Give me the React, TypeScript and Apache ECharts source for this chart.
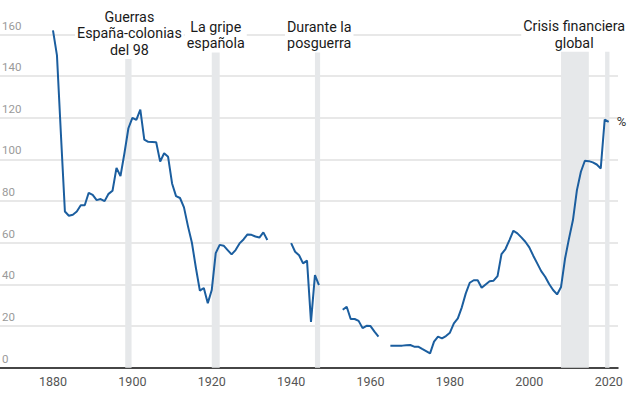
import React, { useEffect, useRef } from "react";
import * as echarts from "echarts";

const years: number[] = [];
for (let y = 1880; y <= 2020; y++) years.push(y);

// Deuda pública sobre PIB (%), lectura del gráfico; null = sin datos
const debt1880s = [162, 150, 112, 75, 73, 73.5, 75, 78, 78, 84];
const debt1890s = [83, 80.5, 81, 80, 83.5, 85, 96, 92, 103, 115];
const debt1900s = [120, 119, 124, 109.6, 108.5, 108.4, 108.3, 99, 103, 101.3];
const debt1910s = [88.5, 82.4, 81.5, 77, 68, 60, 48, 37, 38.3, 31];
const debt1920s = [37.3, 55, 59, 58.6, 56.5, 54.4, 56.5, 59.7, 61.6, 64];
const debt1930s = [63.8, 63, 62.5, 65, 61.3, null, null, null, null, null];
const debt1940s = [59.8, 55.7, 54, 50.1, 51.4, 22, 44.5, 39.7, null, null];
const debt1950s = [null, null, null, 27.8, 29.3, 23.4, 23.4, 22.5, 19, 20.1];
const debt1960s = [20, 17.3, 14.9, null, null, 10.6, 10.6, 10.6, 10.6, 10.8];
const debt1970s = [10.9, 10.1, 10.1, 9, 8, 6.9, 12.5, 14.9, 14.1, 15.2];
const debt1980s = [16.8, 21.3, 23.7, 29, 35.7, 40.8, 42, 42, 38.4, 40];
const debt1990s = [41.5, 41.8, 44, 54.6, 57, 61.3, 65.8, 64.5, 62.6, 60.5];
const debt2000s = [57.8, 53.8, 50.1, 46.4, 43.7, 40.2, 37.3, 35.2, 38.8, 52.3];
const debt2010s = [62, 70.9, 85.3, 94.1, 99.4, 99.2, 98.6, 97.6, 95.7, 119.2];
const debt2020s = [118.1];

const debt = [
  ...debt1880s, ...debt1890s, ...debt1900s, ...debt1910s, ...debt1920s,
  ...debt1930s, ...debt1940s, ...debt1950s, ...debt1960s, ...debt1970s,
  ...debt1980s, ...debt1990s, ...debt2000s, ...debt2010s, ...debt2020s,
];

const xTickLabels = [1880, 1900, 1920, 1940, 1960, 1980, 2000, 2020];

// Periodos sombreados [inicio, fin] y su texto
const bandStarts = [1898.2, 1920, 1946, 2008, 2019.1];
const bandEnds = [1899.8, 1922, 1947.3, 2015, 2020.2];
const bandTexts = [
  "Guerras\nEspaña-colonias\ndel 98",
  "La gripe\nespañola",
  "Durante la\nposguerra",
  "Crisis financiera\nglobal",
  "",
];

const FONT = "Roboto, 'Noto Sans', sans-serif";

export default function App() {
  const ref = useRef<HTMLDivElement>(null);
  useEffect(() => {
    if (!ref.current) return;
    const chart = echarts.init(ref.current, undefined, { renderer: "svg" });
    const labelOffsets: number[][] = [
      [1, -12.5],
      [0, -2.5],
      [1.7, -2.5],
      [-0.8, -3.2],
      [0, 0],
    ];
    const areaData = bandStarts.map((s, i) => [
      {
        xAxis: s,
        name: bandTexts[i],
        label: {
          show: bandTexts[i] !== "",
          position: "insideTop",
          distance: 0,
          offset: labelOffsets[i],
          formatter: bandTexts[i],
          color: "#1a1a1a",
          fontFamily: FONT,
          fontSize: 14.3,
          lineHeight: 16.5,
          align: "center",
          backgroundColor: "#ffffff",
          padding: [1, 2, 1, 2],
        },
      },
      { xAxis: bandEnds[i] },
    ]);

    chart.setOption({
      animation: false,
      backgroundColor: "#ffffff",
      grid: {
        left: 0,
        right: 22,
        top: 20,
        bottom: 31.3,
        containLabel: false,
        outerBoundsMode: "none",
      },
      xAxis: {
        type: "value",
        min: 1866.65,
        max: 2022.35,
        axisLine: { show: true, lineStyle: { color: "#111111", width: 1.5 } },
        axisTick: { show: false },
        splitLine: { show: false },
        axisLabel: {
          customValues: xTickLabels,
          formatter: (v: number) => String(v),
          color: "#555555",
          fontFamily: FONT,
          fontSize: 12.5,
          margin: 7,
        },
      },
      yAxis: {
        type: "value",
        min: 0,
        max: 167,
        interval: 20,
        axisLine: { show: false },
        axisTick: { show: false },
        splitLine: {
          show: true,
          showMaxLine: false,
          lineStyle: { color: "#e0e0e0", width: 1.5 },
        },
        axisLabel: {
          inside: true,
          showMaxLabel: false,
          margin: 2,
          color: "#9a9a9a",
          fontFamily: FONT,
          fontSize: 11.5,
          verticalAlign: "bottom",
          padding: [0, 0, 3, 0],
        },
      },
      series: [
        {
          type: "line",
          data: years.map((y, i) => [y, debt[i]]),
          showSymbol: false,
          connectNulls: false,
          lineStyle: { color: "#1b5e9f", width: 2 },
          itemStyle: { color: "#1b5e9f" },
          endLabel: {
            show: true,
            formatter: "%",
            distance: 8,
            color: "#333333",
            fontFamily: FONT,
            fontSize: 13,
          },
          markArea: {
            silent: true,
            itemStyle: { color: "#e6e8ea" },
            data: areaData,
          },
        },
      ],
    });
    return () => chart.dispose();
  }, []);
  return (
    <div
      ref={ref}
      style={{ position: "fixed", left: 0, top: 0, width: 640, height: 399 }}
    />
  );
}
